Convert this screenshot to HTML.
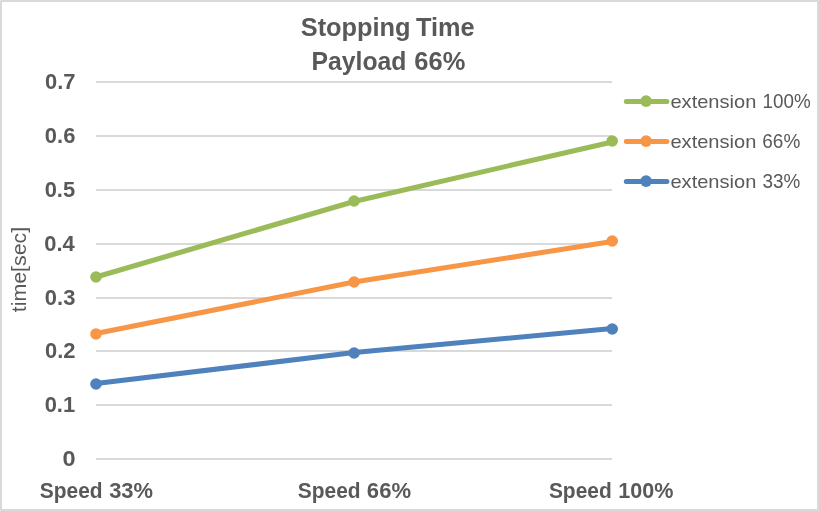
<!DOCTYPE html>
<html lang="en"><head><meta charset="utf-8"><title>Stopping Time - Payload 66%</title>
<style>
html,body{margin:0;padding:0;background:#fff;}
body{width:819px;height:511px;overflow:hidden;font-family:"Liberation Sans",sans-serif;}
svg{display:block;will-change:transform;}
text{font-family:"Liberation Sans",sans-serif;fill:#595959;}
.b{font-weight:bold;}
</style></head><body>
<svg width="819" height="511" viewBox="0 0 819 511">
<rect x="0" y="0" width="819" height="511" fill="#D9D9D9"/>
<rect x="2" y="2" width="815" height="507" fill="#FFFFFF"/>
<rect x="0" y="0" width="1" height="1" fill="#E6E6E6"/><rect x="818" y="0" width="1" height="1" fill="#E6E6E6"/><rect x="0" y="510" width="1" height="1" fill="#E6E6E6"/><rect x="818" y="510" width="1" height="1" fill="#E6E6E6"/>
<rect x="96" y="81" width="516" height="2" fill="#D9D9D9"/>
<rect x="96" y="135" width="516" height="2" fill="#D9D9D9"/>
<rect x="96" y="189" width="516" height="2" fill="#D9D9D9"/>
<rect x="96" y="243" width="516" height="2" fill="#D9D9D9"/>
<rect x="96" y="297" width="516" height="2" fill="#D9D9D9"/>
<rect x="96" y="350" width="516" height="2" fill="#D9D9D9"/>
<rect x="96" y="404" width="516" height="2" fill="#D9D9D9"/>
<rect x="96" y="458" width="516" height="2" fill="#D9D9D9"/>
<text class="b" x="45.08" y="89.30" font-size="21.4" textLength="30.49" lengthAdjust="spacingAndGlyphs">0.7</text>
<text class="b" x="44.88" y="143.30" font-size="21.4" textLength="30.49" lengthAdjust="spacingAndGlyphs">0.6</text>
<text class="b" x="44.67" y="197.30" font-size="21.4" textLength="30.49" lengthAdjust="spacingAndGlyphs">0.5</text>
<text class="b" x="44.26" y="251.30" font-size="21.4" textLength="30.49" lengthAdjust="spacingAndGlyphs">0.4</text>
<text class="b" x="44.88" y="305.30" font-size="21.4" textLength="30.49" lengthAdjust="spacingAndGlyphs">0.3</text>
<text class="b" x="44.98" y="358.30" font-size="21.4" textLength="30.49" lengthAdjust="spacingAndGlyphs">0.2</text>
<text class="b" x="44.67" y="412.30" font-size="21.4" textLength="30.49" lengthAdjust="spacingAndGlyphs">0.1</text>
<text class="b" x="62.50" y="466.30" font-size="21.4" textLength="13.09" lengthAdjust="spacingAndGlyphs">0</text>
<text class="b" y="35.5" font-size="26.4"><tspan x="300.73" textLength="109.86" lengthAdjust="spacingAndGlyphs">Stopping</tspan> <tspan x="415.91" textLength="58.59" lengthAdjust="spacingAndGlyphs">Time</tspan></text>
<text class="b" y="70.4" font-size="26.4"><tspan x="311.51" textLength="94.92" lengthAdjust="spacingAndGlyphs">Payload</tspan> <tspan x="414.34" textLength="50.98" lengthAdjust="spacingAndGlyphs">66%</tspan></text>
<text class="b" y="498.3" font-size="21.4"><tspan x="39.81" textLength="62.78" lengthAdjust="spacingAndGlyphs">Speed</tspan> <tspan x="109.19" textLength="43.86" lengthAdjust="spacingAndGlyphs">33%</tspan></text>
<text class="b" y="498.3" font-size="21.4"><tspan x="297.81" textLength="62.78" lengthAdjust="spacingAndGlyphs">Speed</tspan> <tspan x="366.87" textLength="44.17" lengthAdjust="spacingAndGlyphs">66%</tspan></text>
<text class="b" y="498.3" font-size="21.4"><tspan x="548.91" textLength="62.78" lengthAdjust="spacingAndGlyphs">Speed</tspan> <tspan x="618.39" textLength="55.15" lengthAdjust="spacingAndGlyphs">100%</tspan></text>
<text transform="translate(26,312.3) rotate(-90)" font-size="20" textLength="85.44" lengthAdjust="spacingAndGlyphs">time[sec]</text>
<polyline points="96,383.55 354.1,352.53 612.2,328.50" fill="none" stroke="#4F81BD" stroke-width="5.1" stroke-linecap="round" stroke-linejoin="round"/>
<circle cx="96" cy="384" r="5.8" fill="#4F81BD"/>
<circle cx="354.1" cy="353" r="5.8" fill="#4F81BD"/>
<circle cx="612.2" cy="329" r="5.8" fill="#4F81BD"/>
<polyline points="96,333.60 354.1,281.95 612.2,241.45" fill="none" stroke="#F79646" stroke-width="5.1" stroke-linecap="round" stroke-linejoin="round"/>
<circle cx="96" cy="334" r="5.8" fill="#F79646"/>
<circle cx="354.1" cy="282" r="5.8" fill="#F79646"/>
<circle cx="612.2" cy="241" r="5.8" fill="#F79646"/>
<polyline points="96,277.00 354.1,201.50 612.2,141.90" fill="none" stroke="#9BBB59" stroke-width="5.1" stroke-linecap="round" stroke-linejoin="round"/>
<circle cx="96" cy="277" r="5.8" fill="#9BBB59"/>
<circle cx="354.1" cy="201" r="5.8" fill="#9BBB59"/>
<circle cx="612.2" cy="141" r="5.8" fill="#9BBB59"/>
<line x1="626.3" y1="101.4" x2="666.9" y2="101.4" stroke="#9BBB59" stroke-width="5" stroke-linecap="round"/>
<circle cx="646.1" cy="101.1" r="5.8" fill="#9BBB59"/>
<text y="107.7" font-size="20.3"><tspan x="670.46" font-size="19.0" textLength="85.85" lengthAdjust="spacingAndGlyphs">extension</tspan> <tspan x="762.51" textLength="48.16" lengthAdjust="spacingAndGlyphs">100%</tspan></text>
<line x1="626.3" y1="141.4" x2="666.9" y2="141.4" stroke="#F79646" stroke-width="5" stroke-linecap="round"/>
<circle cx="646.1" cy="141.1" r="5.8" fill="#F79646"/>
<text y="147.7" font-size="20.3"><tspan x="670.46" font-size="19.0" textLength="85.85" lengthAdjust="spacingAndGlyphs">extension</tspan> <tspan x="762.26" textLength="38.02" lengthAdjust="spacingAndGlyphs">66%</tspan></text>
<line x1="626.3" y1="181.4" x2="666.9" y2="181.4" stroke="#4F81BD" stroke-width="5" stroke-linecap="round"/>
<circle cx="646.1" cy="181.1" r="5.8" fill="#4F81BD"/>
<text y="187.7" font-size="20.3"><tspan x="670.46" font-size="19.0" textLength="85.85" lengthAdjust="spacingAndGlyphs">extension</tspan> <tspan x="762.46" textLength="37.82" lengthAdjust="spacingAndGlyphs">33%</tspan></text>
</svg>
</body></html>
